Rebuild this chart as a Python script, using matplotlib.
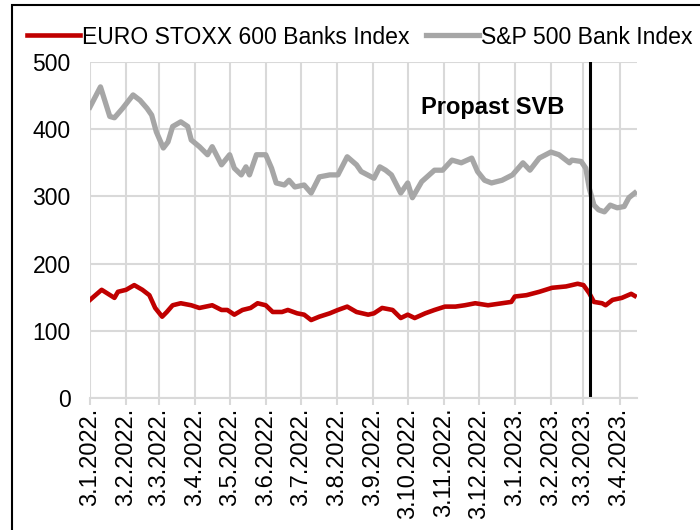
import matplotlib
matplotlib.use('Agg')
import matplotlib.pyplot as plt
from matplotlib.patches import Rectangle
import pandas as pd

plt.rcParams['font.family'] = ['Liberation Sans', 'DejaVu Sans']

# S&P 500 Bank Index
sp_dates = ['2022-01-03', '2022-01-12', '2022-01-20', '2022-01-24', '2022-01-31',
            '2022-02-09', '2022-02-15', '2022-02-21', '2022-02-25', '2022-03-01',
            '2022-03-07', '2022-03-11', '2022-03-15', '2022-03-22', '2022-03-28',
            '2022-03-31', '2022-04-07', '2022-04-14', '2022-04-18', '2022-04-26',
            '2022-05-03', '2022-05-07', '2022-05-13', '2022-05-17', '2022-05-20',
            '2022-05-26', '2022-06-03', '2022-06-08', '2022-06-12', '2022-06-19',
            '2022-06-23', '2022-06-28', '2022-07-06', '2022-07-12', '2022-07-19',
            '2022-07-28', '2022-08-04', '2022-08-12', '2022-08-20', '2022-08-24',
            '2022-09-04', '2022-09-09', '2022-09-14', '2022-09-19', '2022-09-27',
            '2022-10-03', '2022-10-07', '2022-10-15', '2022-10-26', '2022-11-02',
            '2022-11-10', '2022-11-18', '2022-11-27', '2022-12-02', '2022-12-08',
            '2022-12-14', '2022-12-23', '2023-01-01', '2023-01-10', '2023-01-16',
            '2023-01-24', '2023-02-03', '2023-02-10', '2023-02-19', '2023-02-21',
            '2023-03-01', '2023-03-05', '2023-03-08', '2023-03-12', '2023-03-16',
            '2023-03-21', '2023-03-26', '2023-04-01', '2023-04-07', '2023-04-11',
            '2023-04-16']
sp_values = [433, 463, 419, 417, 431, 451, 443, 431, 421, 396,
             372, 381, 404, 411, 404, 384, 374, 362, 374, 347,
             362, 342, 332, 344, 332, 362, 362, 342, 320, 317,
             324, 314, 317, 305, 329, 332, 332, 359, 347, 337,
             327, 344, 339, 332, 305, 320, 298, 322, 339, 339,
             354, 350, 357, 337, 324, 320, 324, 332, 350, 339,
             357, 366, 362, 350, 354, 352, 342, 312, 287, 280,
             277, 287, 283, 285, 298, 305]

# EURO STOXX 600 Banks Index
eu_dates = ['2022-01-03', '2022-01-13', '2022-01-24', '2022-01-27', '2022-02-03',
            '2022-02-10', '2022-02-17', '2022-02-23', '2022-02-28', '2022-03-06',
            '2022-03-10', '2022-03-15', '2022-03-22', '2022-03-31', '2022-04-07',
            '2022-04-18', '2022-04-26', '2022-05-01', '2022-05-07', '2022-05-14',
            '2022-05-21', '2022-05-27', '2022-06-03', '2022-06-09', '2022-06-17',
            '2022-06-22', '2022-06-30', '2022-07-06', '2022-07-12', '2022-07-19',
            '2022-07-28', '2022-08-04', '2022-08-12', '2022-08-20', '2022-08-30',
            '2022-09-04', '2022-09-11', '2022-09-20', '2022-09-27', '2022-10-03',
            '2022-10-09', '2022-10-18', '2022-10-26', '2022-11-04', '2022-11-13',
            '2022-11-21', '2022-11-30', '2022-12-11', '2022-12-23', '2022-12-31',
            '2023-01-03', '2023-01-13', '2023-01-24', '2023-02-04', '2023-02-16',
            '2023-02-26', '2023-03-03', '2023-03-08', '2023-03-12', '2023-03-19',
            '2023-03-22', '2023-03-28', '2023-04-05', '2023-04-13', '2023-04-16']
eu_values = [146, 161, 149, 158, 161, 168, 161, 153, 134, 121,
             128, 138, 141, 138, 134, 138, 131, 131, 124, 131,
             134, 141, 138, 128, 128, 131, 126, 124, 116, 121,
             126, 131, 136, 128, 124, 126, 134, 131, 119, 124,
             119, 126, 131, 136, 136, 138, 141, 138, 141, 143,
             151, 153, 158, 164, 166, 170, 168, 156, 143, 141,
             138, 146, 149, 155, 152]

tick_dates = pd.date_range('2022-01-01', '2023-04-01', freq='MS') + pd.Timedelta(days=2)
tick_labels = [f"{d.day}.{d.month}.{d.year}." for d in tick_dates]
svb_date = pd.Timestamp('2023-03-09')

fig = plt.figure(figsize=(7, 5.3), dpi=100)
ax = fig.add_axes([90 / 700, 1 - 398 / 530, 547 / 700, 336 / 530])

ax.plot(pd.to_datetime(eu_dates), eu_values, color='#C00000', lw=3.3,
        label='EURO STOXX 600 Banks Index', solid_joinstyle='round')
ax.plot(pd.to_datetime(sp_dates), sp_values, color='#A6A6A6', lw=3.8,
        label='S&P 500 Bank Index', solid_joinstyle='round')
ax.axvline(svb_date, color='black', lw=2.2)
ax.text(pd.Timestamp('2023-02-15'), 432, 'Propast SVB', ha='right', va='center',
        fontsize=17, fontweight='bold')

ax.set_xlim(pd.Timestamp('2022-01-03'), pd.Timestamp('2023-04-18'))
ax.set_ylim(0, 500)
ax.set_yticks(range(0, 501, 100))
ax.set_xticks(tick_dates)
ax.set_xticklabels(tick_labels, rotation=90)
ax.tick_params(axis='y', labelsize=16.5, length=0, pad=14)
ax.tick_params(axis='x', labelsize=17, length=5, color='#d9d9d9', width=1.5, pad=2)
ax.grid(True, color='#d9d9d9', lw=1.5)
ax.set_axisbelow(True)
for s in ['left', 'right', 'top']:
    ax.spines[s].set_visible(False)
ax.spines['bottom'].set_color('#d9d9d9')
ax.spines['bottom'].set_linewidth(1.5)

fig.legend(loc='center', bbox_to_anchor=(0.514, 1 - 37 / 530), ncol=2,
           frameon=False, fontsize=16.6, handlelength=2.3, handletextpad=0.1,
           columnspacing=0.7, borderaxespad=0)

fig.add_artist(Rectangle((12 / 700, -0.5), 2, 1.5 - 5 / 530, transform=fig.transFigure,
                         fill=False, edgecolor='black', lw=1.5))

fig.savefig('out.png', dpi=100)
